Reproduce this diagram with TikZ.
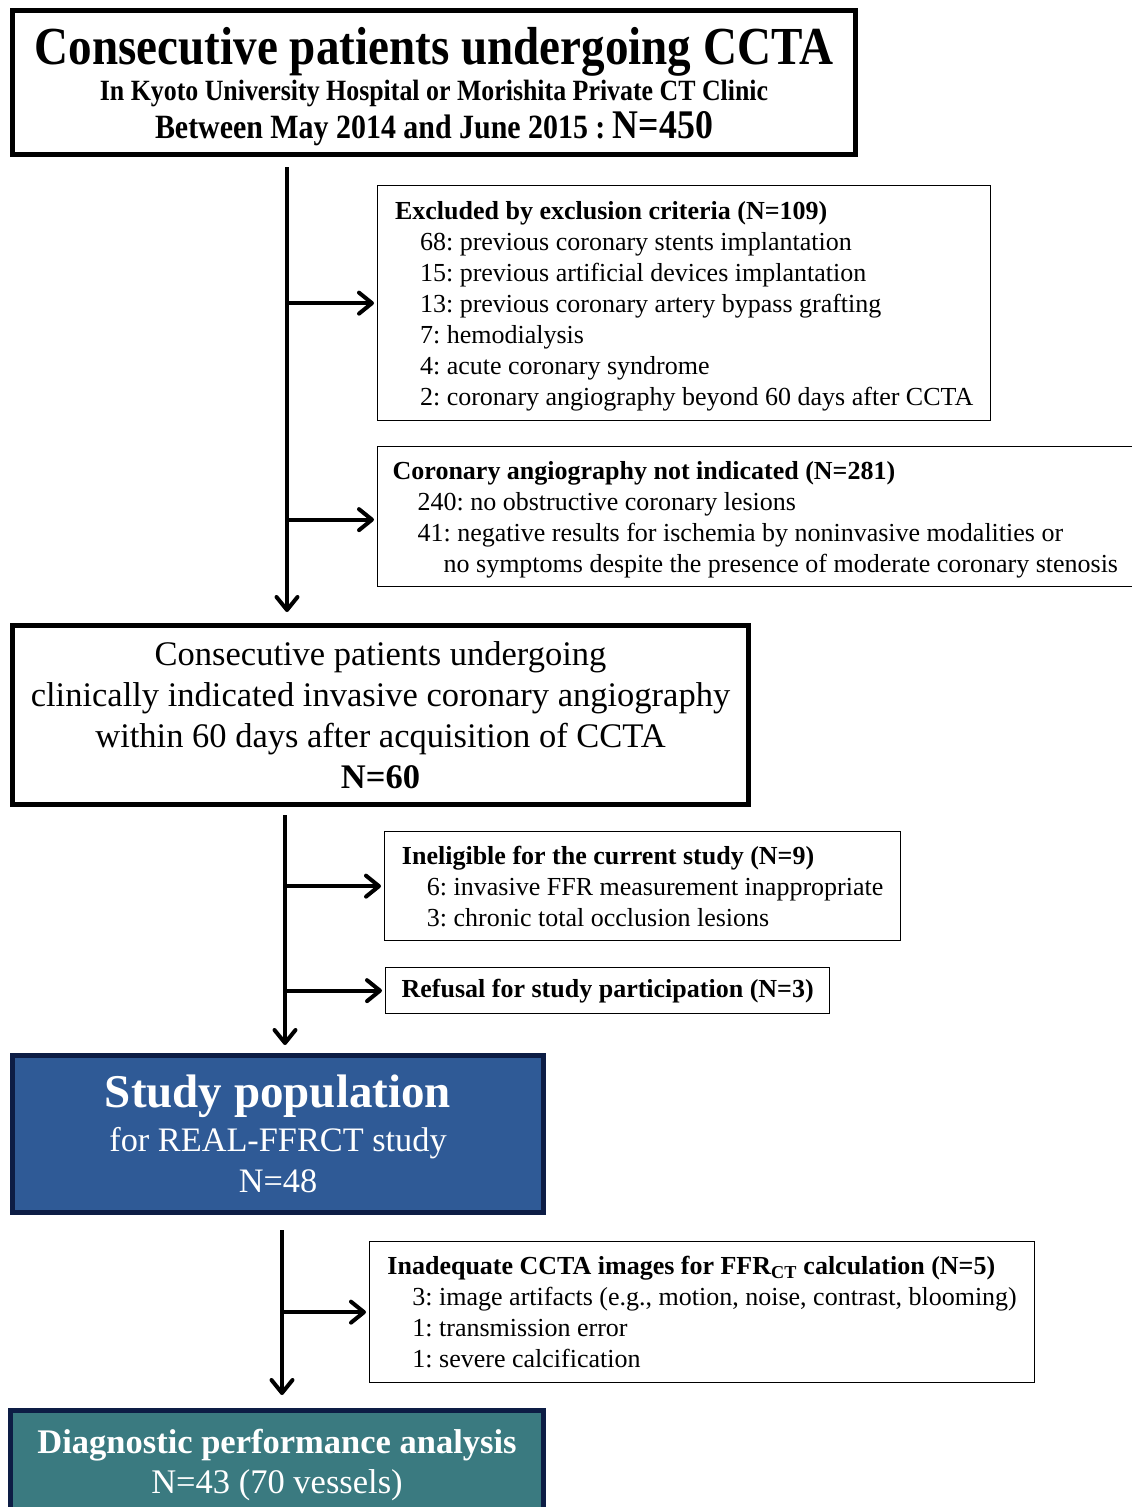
\documentclass[tikz,border=0pt]{standalone}
\usepackage{fontspec}
\setmainfont{Liberation Serif}
\newfontfamily\narrowserif[FakeStretch=0.88]{Liberation Serif}
\usetikzlibrary{positioning,calc,arrows.meta}

\definecolor{popblue}{RGB}{47,90,150}
\definecolor{anateal}{RGB}{58,122,128}
\definecolor{navyline}{RGB}{13,29,69}
\newcommand{\hdstrut}{\rule{0pt}{24pt}}
\frenchspacing

\begin{document}
\begin{tikzpicture}[x=1pt, y=-1pt, >={Straight Barb[round, length=13pt, width=21pt]},
    flow/.style = {->, line width=4pt},
    mainbox/.style = {draw, line width=5pt, inner sep=0pt, align=center},
    sidebox/.style = {draw, line width=1.3pt, anchor=north west, inner xsep=15pt, inner ysep=0pt, align=left, font=\fontsize{26}{31}\selectfont},
    colbox/.style = {draw=navyline, line width=5pt, inner sep=0pt, align=center, text=white}]

\useasboundingbox (0,0) rectangle (1132,1507);

% main flow
\node[mainbox, minimum width=843pt, minimum height=144pt, font=\narrowserif\bfseries\fontsize{30}{36}\selectfont] (cohort) at (434,82.5)
    {{\fontsize{53.5}{36}\selectfont\rule{0pt}{46pt}Consecutive patients undergoing CCTA}\\
     {\fontsize{29.4}{36}\selectfont In Kyoto University Hospital or Morishita Private CT Clinic}\\[2pt]
     {\fontsize{34}{36}\selectfont Between May 2014 and June 2015 : {\fontsize{40.7}{36}\selectfont N=450}}};

\node[mainbox, minimum width=736pt, minimum height=179pt, font=\fontsize{34.5}{41}\selectfont] (invasive) at (380.5,715)
    {Consecutive patients undergoing\\
     clinically indicated invasive coronary angiography\\
     within 60 days after acquisition of CCTA\\
     \textbf{N=60}};

\node[colbox, fill=popblue, minimum width=531pt, minimum height=157pt, font=\fontsize{34.3}{41}\selectfont] (studypop) at (278,1134)
    {{\bfseries\fontsize{47}{41}\selectfont Study population}\\[3pt]
     for REAL-FFRCT study\\
     N=48};

\node[colbox, fill=anateal, minimum width=533pt, minimum height=109pt, font=\fontsize{34.5}{40}\selectfont] (diag) at (277,1465)
    {\textbf{Diagnostic performance analysis}\\
     N=43 (70 vessels)};

% side boxes
\node[sidebox, minimum width=613pt, minimum height=235pt] (excl) at (377,185)
    {\hdstrut\textbf{Excluded by exclusion criteria (N=109)}\\
     \hspace*{25pt}68: previous coronary stents implantation\\
     \hspace*{25pt}15: previous artificial devices implantation\\
     \hspace*{25pt}13: previous coronary artery bypass grafting\\
     \hspace*{25pt}7: hemodialysis\\
     \hspace*{25pt}4: acute coronary syndrome\\
     \hspace*{25pt}2: coronary angiography beyond 60 days after CCTA};

\node[sidebox, minimum width=754pt, minimum height=140pt] (notind) at (377,446)
    {\hdstrut\textbf{Coronary angiography not indicated (N=281)}\\
     \hspace*{25pt}240: no obstructive coronary lesions\\
     \hspace*{25pt}41: negative results for ischemia by noninvasive modalities or\\
     \hspace*{51pt}no symptoms despite the presence of moderate coronary stenosis};

\node[sidebox, minimum width=516pt, minimum height=109pt] (inelig) at (384,831)
    {\textbf{Ineligible for the current study (N=9)}\\
     \hspace*{25pt}6: invasive FFR measurement inappropriate\\
     \hspace*{25pt}3: chronic total occlusion lesions};

\node[sidebox, minimum width=444pt, minimum height=46pt] (refusal) at (385,967)
    {\textbf{Refusal for study participation (N=3)}};

\node[sidebox, minimum width=665pt, minimum height=141pt] (inadeq) at (369,1241)
    {\textbf{Inadequate CCTA images for FFR\textsubscript{CT} calculation (N=5)}\\
     \hspace*{25pt}3: image artifacts (e.g., motion, noise, contrast, blooming)\\
     \hspace*{25pt}1: transmission error\\
     \hspace*{25pt}1: severe calcification};

% arrows
\coordinate (sp1) at (287,167);
\coordinate (sp2) at (285,815);
\coordinate (sp3) at (282,1230);

\draw[flow, shorten >=11pt] (sp1) -- (sp1 |- invasive.north);
\draw[flow, shorten >=3pt] (sp1 |- excl.west) -- (excl.west);
\draw[flow, shorten >=3pt] ([yshift=-3pt]sp1 |- notind.west) -- ([yshift=-3pt]notind.west);

\draw[flow, shorten >=8pt] (sp2) -- (sp2 |- studypop.north);
\draw[flow, shorten >=3pt] (sp2 |- inelig.west) -- (inelig.west);
\draw[flow, shorten >=3pt] (sp2 |- refusal.west) -- (refusal.west);

\draw[flow, shorten >=13pt] (sp3) -- (sp3 |- diag.north);
\draw[flow, shorten >=3pt] (sp3 |- inadeq.west) -- (inadeq.west);
\end{tikzpicture}
\end{document}
